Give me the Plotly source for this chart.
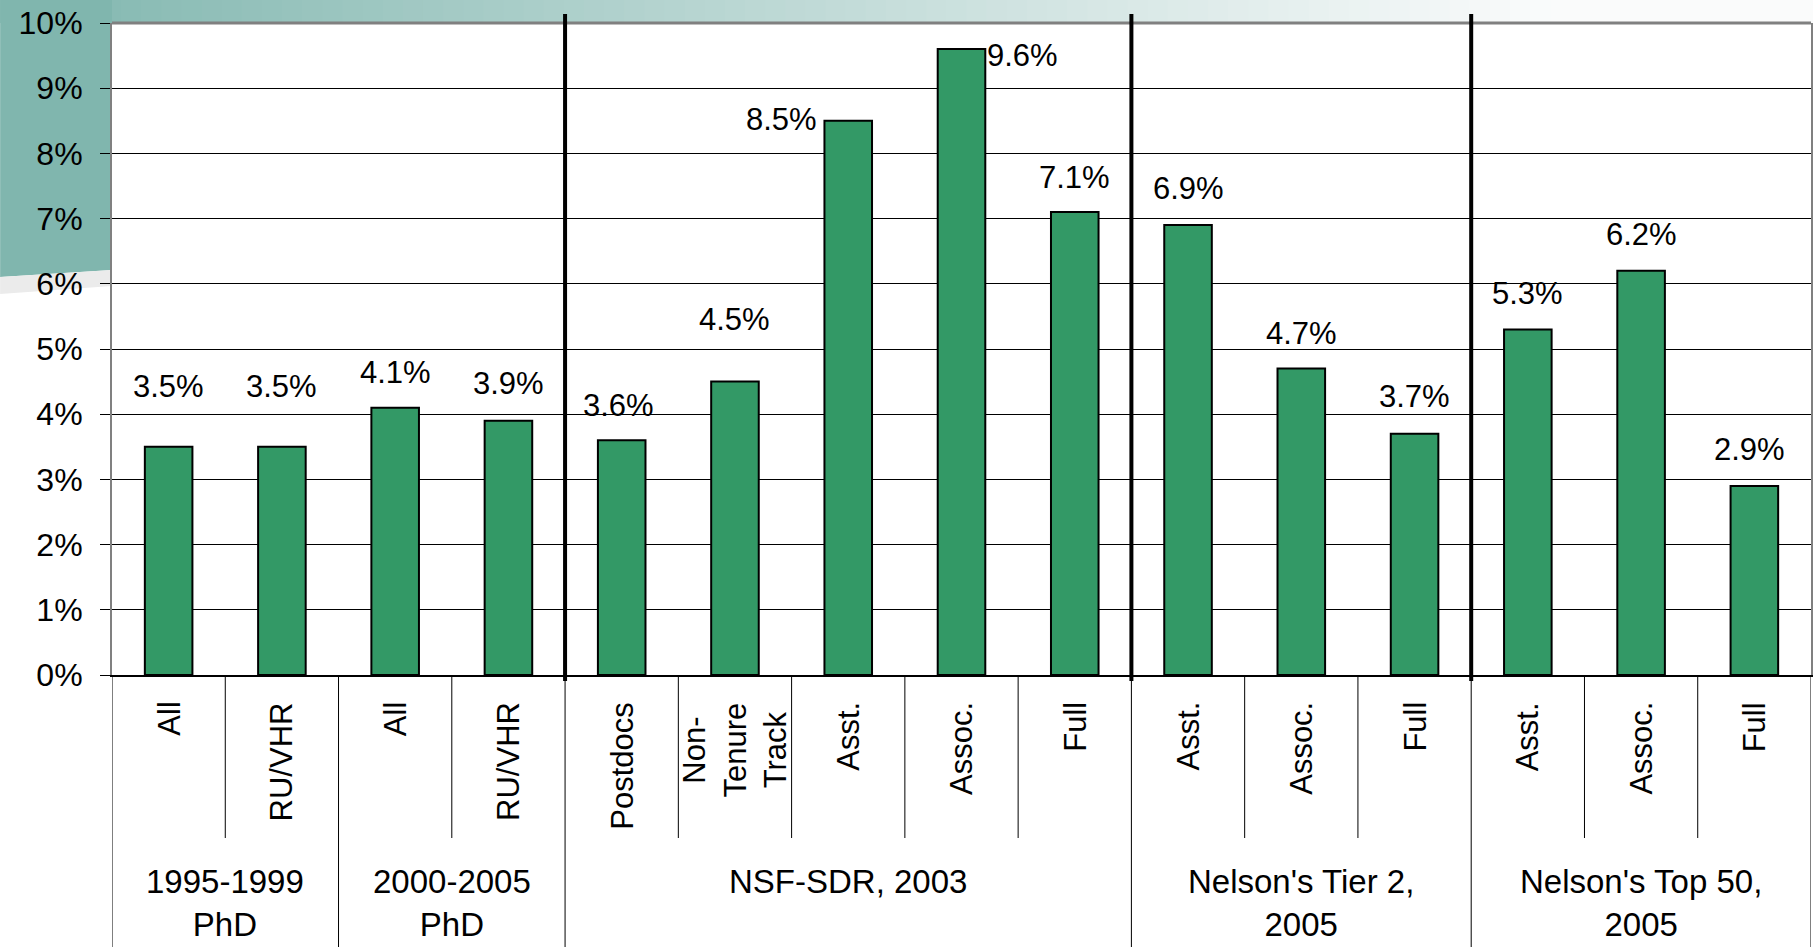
import plotly.graph_objects as go

categories = ["All", "RU/VHR", "All", "RU/VHR", "Postdocs", "Non-<br>Tenure<br>Track",
              "Asst.", "Assoc.", "Full", "Asst.", "Assoc.", "Full", "Asst.", "Assoc.", "Full"]
values = [3.5, 3.5, 4.1, 3.9, 3.6, 4.5, 8.5, 9.6, 7.1, 6.9, 4.7, 3.7, 5.3, 6.2, 2.9]
groups = ["1995-1999<br>PhD", "2000-2005<br>PhD", "NSF-SDR, 2003",
          "Nelson's Tier 2,<br>2005", "Nelson's Top 50,<br>2005"]
group_sizes = [2, 2, 5, 3, 3]
section_sizes = [4, 5, 3, 3]
y_ticks = list(range(0, 11))
y_ticktext = ["%d%%" % v for v in y_ticks]

# nudges for the value labels, in pixels
label_dx = [0, 0, 0, 0, -3, 0, -67, 61, 0, 0, 0, 0, 0, 0, -5]
label_dy = [60, 60, 35, 37, 35, 62, 1, -6, 35, 37, 35, 37, 36, 36, 36]

W, H = 1814, 947
L, T, R, B = 112, 23, 1, 272
FONT = "Liberation Sans, Arial, sans-serif"
GREEN = "#339966"


def px(xp):
    return (xp - L) / (W - L - R)


def py(yp):
    return (H - B - yp) / (H - T - B)


xs = list(range(len(values)))

fig = go.Figure()
fig.add_trace(go.Bar(
    x=xs, y=values, width=0.42,
    marker=dict(color=GREEN, line=dict(color="black", width=2)),
    hoverinfo="skip",
))

shapes = []
# slide background decoration (teal band and left block)
n = 90
c0 = (128, 182, 174)
c1 = (250, 251, 251)
for k in range(n):
    x0 = W * k / n
    x1 = W * (k + 1) / n + 1
    t = min(1.0, (x0 + x1) / 2 / 1550)
    col = "rgb(%d,%d,%d)" % tuple(round(a + (b - a) * t) for a, b in zip(c0, c1))
    shapes.append(dict(type="rect", xref="paper", yref="paper", x0=px(x0), x1=px(x1),
                       y0=py(T), y1=py(0), fillcolor=col, line=dict(width=0), layer="below"))
shapes.append(dict(type="path", xref="paper", yref="paper",
                   path="M %f,%f L %f,%f L %f,%f L %f,%f Z" % (px(0), py(0), px(L), py(0), px(L), py(270), px(0), py(277)),
                   fillcolor="rgb(128,182,174)", line=dict(width=0), layer="below"))
shapes.append(dict(type="path", xref="paper", yref="paper",
                   path="M %f,%f L %f,%f L %f,%f L %f,%f Z" % (px(0), py(277), px(L), py(270), px(L), py(286), px(0), py(294)),
                   fillcolor="#ebebeb", line=dict(width=0), layer="below"))

# top border of plot
shapes.append(dict(type="line", xref="paper", yref="paper", x0=0, x1=1, y0=1, y1=1,
                   line=dict(color="#808080", width=3)))

# dividers in the label area
group_bounds = [-0.5]
for s in group_sizes:
    group_bounds.append(group_bounds[-1] + s)
for b in group_bounds:
    shapes.append(dict(type="line", xref="x", yref="paper", x0=b, x1=b, y0=0, y1=py(H),
                       line=dict(color="black", width=1)))
for i in range(len(values) - 1):
    b = i + 0.5
    if b not in group_bounds:
        shapes.append(dict(type="line", xref="x", yref="paper", x0=b, x1=b, y0=0, y1=py(838),
                           line=dict(color="black", width=1)))

# thick separators between sources
pos = -0.5
for s in section_sizes[:-1]:
    pos += s
    shapes.append(dict(type="line", xref="x", yref="paper", x0=pos, x1=pos, y0=py(681), y1=py(14),
                       line=dict(color="black", width=4)))

annotations = []
for i, v in enumerate(values):
    annotations.append(dict(x=i, y=v, xref="x", yref="y", text="%.1f%%" % v, showarrow=False,
                            xanchor="center", yanchor="middle", xshift=label_dx[i], yshift=label_dy[i],
                            font=dict(family=FONT, size=31, color="black")))
for i, c in enumerate(categories):
    annotations.append(dict(x=i, y=0, xref="x", yref="y", text=c, showarrow=False, textangle=-90,
                            xanchor="center", yanchor="top", yshift=-25, align="center",
                            font=dict(family=FONT, size=31, color="black")))
start = 0
for g, s in zip(groups, group_sizes):
    annotations.append(dict(x=start + (s - 1) / 2, y=0, xref="x", yref="y", text=g, showarrow=False,
                            xanchor="center", yanchor="top", yshift=-186, align="center",
                            font=dict(family=FONT, size=33, color="black")))
    start += s

fig.update_layout(
    width=W, height=H,
    margin=dict(l=L, r=R, t=T, b=B, pad=0),
    paper_bgcolor="white", plot_bgcolor="white",
    showlegend=False,
    shapes=shapes, annotations=annotations,
    xaxis=dict(range=[-0.5, len(values) - 0.5], showticklabels=False, showgrid=False,
               zeroline=False, showline=True, linecolor="black", linewidth=2, ticks=""),
    yaxis=dict(range=[0, 10], tickvals=y_ticks, ticktext=y_ticktext, showgrid=True,
               gridcolor="black", gridwidth=1, zeroline=False, showline=True, mirror=True,
               linecolor="#808080", linewidth=2, ticks="outside", ticklen=10, tickcolor="black",
               tickwidth=1, ticklabelstandoff=11,
               tickfont=dict(family=FONT, size=32, color="black")),
)

fig.write_html("out.html", config={"displayModeBar": False},
               post_script="document.body.style.margin='0';document.body.style.overflow='hidden';")
